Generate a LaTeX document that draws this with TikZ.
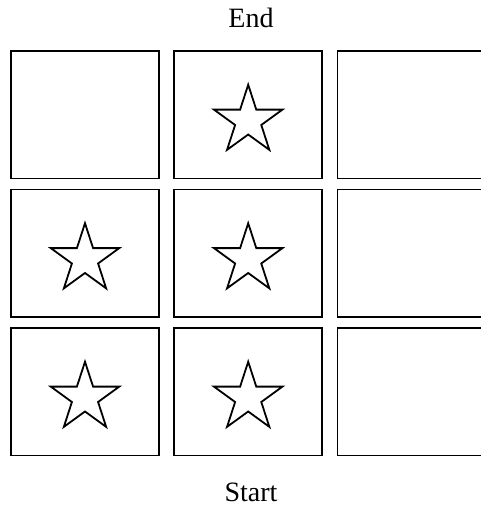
\documentclass[tikz,border=0pt]{standalone}
\usepackage{fontspec}
\setmainfont{Liberation Serif}
\usepackage{tikz}
\usetikzlibrary{positioning, shapes.geometric}

\begin{document}
\begin{tikzpicture}[x=1pt, y=1pt, node distance=9.4pt and 13.6pt,
    cell/.style={draw, rectangle, line width=1.6pt, minimum width=148pt, minimum height=127.5pt, inner sep=0pt},
    starmark/.style={draw, star, star points=5, star point ratio=2.618, minimum size=72pt, inner sep=0pt, line width=1.8pt},
    every node/.style={font=\fontsize{28}{32}\selectfont}]
    \useasboundingbox (0,0) rectangle (480,506);

    % Grid Cells
    \node [cell] (c11) at (85,391.25) {};
    \node [cell, right=of c11] (c12) {};
    \node [cell, right=of c12] (c13) {};
    \node [cell, below=of c11] (c21) {};
    \node [cell, right=of c21] (c22) {};
    \node [cell, right=of c22] (c23) {};
    \node [cell, below=of c21] (c31) {};
    \node [cell, right=of c31] (c32) {};
    \node [cell, right=of c32] (c33) {};

    % Stars
    \node [starmark] (s12) at ([yshift=-6pt]c12.center) {};
    \node [starmark] (s21) at ([yshift=-6pt]c21.center) {};
    \node [starmark] (s22) at ([yshift=-6pt]c22.center) {};
    \node [starmark] (s31) at ([yshift=-6pt]c31.center) {};
    \node [starmark] (s32) at ([yshift=-6pt]c32.center) {};

    % Labels
    \node [anchor=base] (endlabel) at (251,478) {End};
    \node [anchor=base] (startlabel) at (251,5) {Start};
\end{tikzpicture}
\end{document}
